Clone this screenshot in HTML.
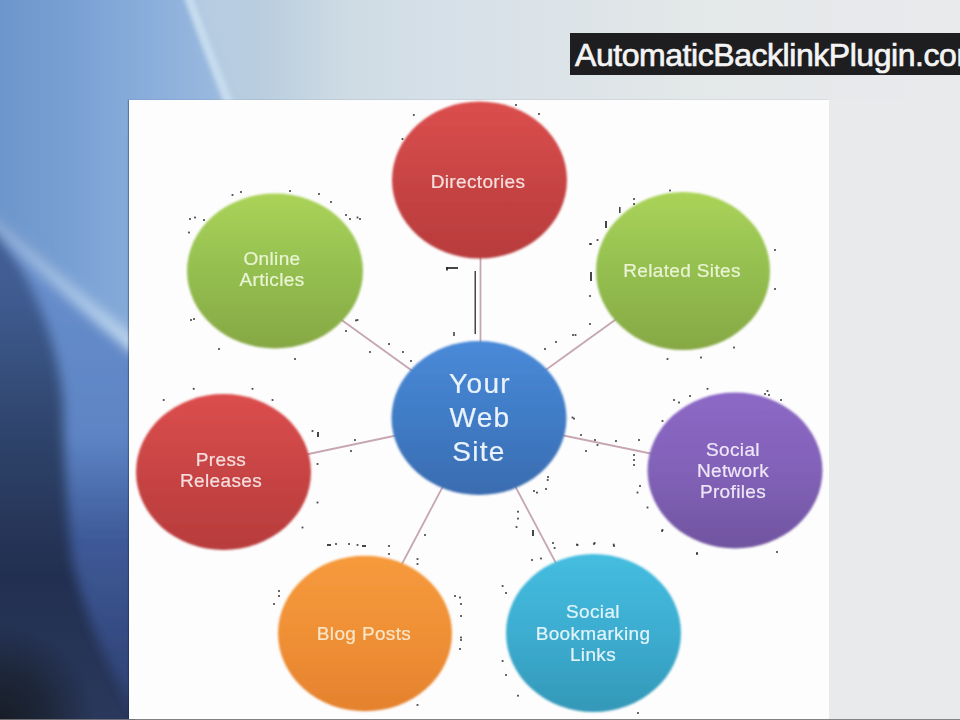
<!DOCTYPE html>
<html><head><meta charset="utf-8">
<style>
html,body{margin:0;padding:0;width:960px;height:720px;overflow:hidden;background:#e2e6e8;}
#bg{position:absolute;left:0;top:0;width:960px;height:720px;}
#slide{position:absolute;left:129px;top:100px;width:699.5px;height:619px;background:#fdfdfd;box-shadow:-1px 0 1px rgba(20,30,60,0.35);}
#banner{position:absolute;left:570px;top:33px;width:400px;height:42px;background:#1e1e20;}
#banner span{position:absolute;left:5px;top:3px;-webkit-text-stroke:0.7px #f4f4f4;font-family:"Liberation Sans",sans-serif;font-size:32px;color:#f4f4f4;letter-spacing:-0.45px;white-space:nowrap;line-height:38px;}
#strip{position:absolute;left:0;top:719px;width:960px;height:1px;background:rgba(120,120,124,0.9);}
#diag{position:absolute;left:0;top:0;width:960px;height:720px;}
.t{font-family:"Liberation Sans",sans-serif;fill:#eef0ec;stroke:#eef0ec;stroke-width:0.2px;text-anchor:middle;}
</style></head><body>
<svg id="bg" width="960" height="720" viewBox="0 0 960 720">
  <defs>
    <linearGradient id="glight" x1="0" y1="0" x2="960" y2="0" gradientUnits="userSpaceOnUse">
      <stop offset="0.2" stop-color="#b6cce2"/>
      <stop offset="0.27" stop-color="#b8cddf"/>
      <stop offset="0.365" stop-color="#cfdce4"/>
      <stop offset="0.47" stop-color="#d6e0e8"/>
      <stop offset="0.72" stop-color="#e3e8e8"/>
      <stop offset="0.92" stop-color="#e8e9ec"/>
      <stop offset="1" stop-color="#e8eaeb"/>
    </linearGradient>
    <linearGradient id="gblue" x1="0" y1="0" x2="232" y2="0" gradientUnits="userSpaceOnUse">
      <stop offset="0" stop-color="#6c96cc"/>
      <stop offset="0.25" stop-color="#769ed2"/>
      <stop offset="0.69" stop-color="#8cb0dc"/>
      <stop offset="1" stop-color="#9cbadf"/>
    </linearGradient>
    <linearGradient id="gdark" x1="0" y1="200" x2="0" y2="720" gradientUnits="userSpaceOnUse">
      <stop offset="0" stop-color="#46629a"/>
      <stop offset="0.2" stop-color="#3e5a8e"/>
      <stop offset="0.46" stop-color="#2e436a"/>
      <stop offset="0.72" stop-color="#222f50"/>
      <stop offset="1" stop-color="#2a385c"/>
    </linearGradient>
    <radialGradient id="gbl" cx="0" cy="720" r="95" gradientUnits="userSpaceOnUse">
      <stop offset="0" stop-color="#161c24" stop-opacity="0.95"/>
      <stop offset="0.5" stop-color="#161c24" stop-opacity="0.6"/>
      <stop offset="1" stop-color="#161c24" stop-opacity="0"/>
    </radialGradient>
    <linearGradient id="gmid" x1="0" y1="240" x2="0" y2="700" gradientUnits="userSpaceOnUse">
      <stop offset="0" stop-color="#6a90cc"/>
      <stop offset="0.43" stop-color="#5d84c4"/>
      <stop offset="0.65" stop-color="#3e5a98"/>
      <stop offset="1" stop-color="#2f4274"/>
    </linearGradient>
    <linearGradient id="gband" x1="0" y1="0" x2="140" y2="0" gradientUnits="userSpaceOnUse">
      <stop offset="0" stop-color="#8eb0dc"/>
      <stop offset="0.5" stop-color="#a8c6e8"/>
      <stop offset="1" stop-color="#c6dcf0"/>
    </linearGradient>
    <filter id="blur8" x="-50%" y="-50%" width="200%" height="200%"><feGaussianBlur stdDeviation="8"/></filter>
    <filter id="blur5" x="-50%" y="-50%" width="200%" height="200%"><feGaussianBlur stdDeviation="6"/></filter>
    <filter id="blur2" x="-50%" y="-50%" width="200%" height="200%"><feGaussianBlur stdDeviation="2"/></filter>
  </defs>
  <rect x="0" y="0" width="960" height="720" fill="#e8eaeb"/>
  <rect x="0" y="0" width="960" height="100" fill="url(#glight)"/>
  <rect x="0" y="0" width="135" height="720" fill="url(#gdark)"/>
  <rect x="0" y="560" width="135" height="160" fill="url(#gbl)"/>
  <g filter="url(#blur5)">
    <path d="M-30,-30 L180,-30 Q205,40 232,120 L140,120 L140,352 Q60,280 0,222 L-30,200 Z" fill="url(#gblue)"/>
    <path d="M0,232 Q70,290 140,350 L140,720 Q90,640 72,560 Q64,480 63,400 Q55,320 10,250 Z" fill="url(#gmid)"/>
  </g>
  <path d="M-10,218 Q60,285 140,350" stroke="url(#gband)" stroke-width="14" fill="none" filter="url(#blur5)"/>
  <path d="M188,-5 Q206,45 230,105" stroke="#c6dcee" stroke-width="9" fill="none" filter="url(#blur2)"/>
</svg>
<div id="slide"></div>
<div id="banner"><span>AutomaticBacklinkPlugin.com</span></div>
<svg id="diag" width="960" height="720" viewBox="0 0 960 720">
  <defs>
    <filter id="soft" x="-10%" y="-10%" width="120%" height="120%"><feGaussianBlur stdDeviation="1.1"/></filter>
    <filter id="tsoft" x="-10%" y="-30%" width="120%" height="160%"><feGaussianBlur stdDeviation="0.35"/></filter>
    <linearGradient id="cr" x1="0" y1="0" x2="0" y2="1"><stop offset="0" stop-color="#dc4e4e"/><stop offset="0.5" stop-color="#c84444"/><stop offset="1" stop-color="#b83c3c"/></linearGradient>
    <linearGradient id="cg" x1="0" y1="0" x2="0" y2="1"><stop offset="0" stop-color="#aad358"/><stop offset="0.5" stop-color="#94bf50"/><stop offset="1" stop-color="#86a844"/></linearGradient>
    <linearGradient id="cp" x1="0" y1="0" x2="0" y2="1"><stop offset="0" stop-color="#8c68c6"/><stop offset="0.5" stop-color="#8262b8"/><stop offset="1" stop-color="#7054a0"/></linearGradient>
    <linearGradient id="co" x1="0" y1="0" x2="0" y2="1"><stop offset="0" stop-color="#f69a3c"/><stop offset="0.5" stop-color="#f09036"/><stop offset="1" stop-color="#e4822e"/></linearGradient>
    <linearGradient id="cc" x1="0" y1="0" x2="0" y2="1"><stop offset="0" stop-color="#45bde0"/><stop offset="0.5" stop-color="#3cadd0"/><stop offset="1" stop-color="#3498b8"/></linearGradient>
    <linearGradient id="cb" x1="0" y1="0" x2="0" y2="1"><stop offset="0" stop-color="#4a8ad8"/><stop offset="0.5" stop-color="#407cc6"/><stop offset="1" stop-color="#3a6cb0"/></linearGradient>
  </defs>
  <g stroke="#c6a6b0" stroke-width="1.8">
    <line x1="480.5" y1="418" x2="480.5" y2="180"/>
    <line x1="479" y1="419" x2="275" y2="272"/>
    <line x1="479" y1="418" x2="683" y2="271"/>
    <line x1="479" y1="418" x2="223" y2="472"/>
    <line x1="479" y1="418" x2="735" y2="471"/>
    <line x1="479" y1="418" x2="365" y2="634"/>
    <line x1="479" y1="418" x2="593" y2="633"/>
  </g>
  <g filter="url(#soft)">
    <ellipse cx="479.5" cy="180" rx="87.5" ry="78.5" fill="url(#cr)"/>
    <ellipse cx="275" cy="271" rx="88" ry="77.5" fill="url(#cg)"/>
    <ellipse cx="683" cy="271" rx="87" ry="79" fill="url(#cg)"/>
    <ellipse cx="223.5" cy="472" rx="87.5" ry="78" fill="url(#cr)"/>
    <ellipse cx="735" cy="470.5" rx="87.5" ry="78" fill="url(#cp)"/>
    <ellipse cx="365" cy="633.5" rx="87" ry="77.8" fill="url(#co)"/>
    <ellipse cx="593.5" cy="633" rx="87.5" ry="79" fill="url(#cc)"/>
    <ellipse cx="479" cy="418" rx="87.5" ry="77" fill="url(#cb)"/>
  </g>
  <g font-size="19" letter-spacing="0.35" filter="url(#tsoft)">
    <text x="478" y="188" class="t" style="fill:#f6dede;stroke:#f6dede">Directories</text>
    <text x="272" y="265" class="t" style="fill:#eaf4d4;stroke:#eaf4d4">Online</text>
    <text x="272" y="286" class="t" style="fill:#eaf4d4;stroke:#eaf4d4">Articles</text>
    <text x="682" y="277" class="t" style="fill:#eaf4d4;stroke:#eaf4d4">Related Sites</text>
    <text x="221" y="466" class="t" style="fill:#f6dede;stroke:#f6dede">Press</text>
    <text x="221" y="487" class="t" style="fill:#f6dede;stroke:#f6dede">Releases</text>
    <text x="733" y="456" class="t" style="fill:#efe6f8;stroke:#efe6f8">Social</text>
    <text x="733" y="477" class="t" style="fill:#efe6f8;stroke:#efe6f8">Network</text>
    <text x="733" y="498" class="t" style="fill:#efe6f8;stroke:#efe6f8">Profiles</text>
    <text x="364" y="640" class="t" style="fill:#f8e6c8;stroke:#f8e6c8">Blog Posts</text>
    <text x="593" y="618" class="t" style="fill:#e2f4fa;stroke:#e2f4fa">Social</text>
    <text x="593" y="640" class="t" style="fill:#e2f4fa;stroke:#e2f4fa">Bookmarking</text>
    <text x="593" y="661" class="t" style="fill:#e2f4fa;stroke:#e2f4fa">Links</text>
  </g>
  <g font-size="28" letter-spacing="1.3" filter="url(#tsoft)">
    <text x="480" y="393" class="t" style="fill:#eaf2fc;stroke:#eaf2fc">Your</text>
    <text x="480" y="427" class="t" style="fill:#eaf2fc;stroke:#eaf2fc">Web</text>
    <text x="479" y="461" class="t" style="fill:#eaf2fc;stroke:#eaf2fc">Site</text>
  </g>
</svg>
<svg id="dots" width="960" height="720" viewBox="0 0 960 720" style="position:absolute;left:0;top:0"><g fill="#262626" fill-opacity="0.85"><rect x="231.6" y="194.1" width="1.8" height="1.8"/><rect x="240.1" y="191.1" width="1.8" height="1.8"/><rect x="289.1" y="190.1" width="1.8" height="1.8"/><rect x="318.1" y="193.1" width="1.8" height="1.8"/><rect x="330.1" y="201.1" width="1.8" height="1.8"/><rect x="345.1" y="214.1" width="1.8" height="1.8"/><rect x="349.1" y="218.1" width="1.8" height="1.8"/><rect x="356.6" y="216.6" width="1.8" height="1.8"/><rect x="359.1" y="218.1" width="1.8" height="1.8"/><rect x="189.1" y="218.1" width="1.8" height="1.8"/><rect x="194.1" y="216.6" width="1.8" height="1.8"/><rect x="203.1" y="219.1" width="1.8" height="1.8"/><rect x="188.1" y="231.6" width="1.8" height="1.8"/><rect x="190.1" y="319.1" width="1.8" height="1.8"/><rect x="193.1" y="318.1" width="1.8" height="1.8"/><rect x="218.1" y="348.1" width="1.8" height="1.8"/><rect x="345.1" y="330.1" width="1.8" height="1.8"/><rect x="356.6" y="319.1" width="1.8" height="1.8"/><rect x="388.1" y="343.1" width="1.8" height="1.8"/><rect x="369.1" y="351.1" width="1.8" height="1.8"/><rect x="294.1" y="358.1" width="1.8" height="1.8"/><rect x="412.9" y="114.1" width="1.8" height="1.8"/><rect x="515.1" y="104.1" width="1.8" height="1.8"/><rect x="538.1" y="113.1" width="1.8" height="1.8"/><rect x="401.6" y="138.1" width="1.8" height="1.8"/><rect x="590.1" y="243.1" width="1.8" height="1.8"/><rect x="596.6" y="239.1" width="1.8" height="1.8"/><rect x="669.1" y="189.6" width="1.8" height="1.8"/><rect x="633.1" y="198.1" width="1.8" height="1.8"/><rect x="633.1" y="203.1" width="1.8" height="1.8"/><rect x="589.1" y="243.1" width="1.8" height="1.8"/><rect x="589.1" y="295.1" width="1.8" height="1.8"/><rect x="589.1" y="323.1" width="1.8" height="1.8"/><rect x="574.6" y="334.1" width="1.8" height="1.8"/><rect x="774.1" y="249.1" width="1.8" height="1.8"/><rect x="774.1" y="288.1" width="1.8" height="1.8"/><rect x="733.1" y="346.6" width="1.8" height="1.8"/><rect x="666.6" y="358.1" width="1.8" height="1.8"/><rect x="700.1" y="356.6" width="1.8" height="1.8"/><rect x="192.8" y="387.9" width="1.8" height="1.8"/><rect x="251.6" y="387.9" width="1.8" height="1.8"/><rect x="162.8" y="399.1" width="1.8" height="1.8"/><rect x="271.6" y="399.1" width="1.8" height="1.8"/><rect x="311.6" y="430.1" width="1.8" height="1.8"/><rect x="354.1" y="439.1" width="1.8" height="1.8"/><rect x="350.1" y="450.1" width="1.8" height="1.8"/><rect x="316.6" y="463.1" width="1.8" height="1.8"/><rect x="316.6" y="501.6" width="1.8" height="1.8"/><rect x="301.6" y="526.6" width="1.8" height="1.8"/><rect x="335.1" y="543.1" width="1.8" height="1.8"/><rect x="348.1" y="543.1" width="1.8" height="1.8"/><rect x="356.6" y="544.1" width="1.8" height="1.8"/><rect x="571.6" y="416.6" width="1.8" height="1.8"/><rect x="706.6" y="387.9" width="1.8" height="1.8"/><rect x="673.1" y="399.1" width="1.8" height="1.8"/><rect x="678.1" y="401.6" width="1.8" height="1.8"/><rect x="689.1" y="395.1" width="1.8" height="1.8"/><rect x="661.6" y="420.1" width="1.8" height="1.8"/><rect x="766.6" y="390.1" width="1.8" height="1.8"/><rect x="764.1" y="393.1" width="1.8" height="1.8"/><rect x="768.1" y="394.1" width="1.8" height="1.8"/><rect x="780.1" y="399.1" width="1.8" height="1.8"/><rect x="580.1" y="434.1" width="1.8" height="1.8"/><rect x="594.1" y="439.1" width="1.8" height="1.8"/><rect x="596.6" y="444.1" width="1.8" height="1.8"/><rect x="615.1" y="440.1" width="1.8" height="1.8"/><rect x="638.1" y="439.1" width="1.8" height="1.8"/><rect x="585.1" y="450.1" width="1.8" height="1.8"/><rect x="633.1" y="454.1" width="1.8" height="1.8"/><rect x="633.1" y="459.1" width="1.8" height="1.8"/><rect x="633.1" y="464.1" width="1.8" height="1.8"/><rect x="639.1" y="485.1" width="1.8" height="1.8"/><rect x="636.6" y="491.6" width="1.8" height="1.8"/><rect x="646.6" y="506.6" width="1.8" height="1.8"/><rect x="661.6" y="529.1" width="1.8" height="1.8"/><rect x="576.6" y="544.1" width="1.8" height="1.8"/><rect x="593.1" y="543.1" width="1.8" height="1.8"/><rect x="613.1" y="545.1" width="1.8" height="1.8"/><rect x="388.1" y="545.1" width="1.8" height="1.8"/><rect x="388.1" y="553.1" width="1.8" height="1.8"/><rect x="424.1" y="534.1" width="1.8" height="1.8"/><rect x="416.6" y="558.1" width="1.8" height="1.8"/><rect x="416.6" y="563.1" width="1.8" height="1.8"/><rect x="278.1" y="595.1" width="1.8" height="1.8"/><rect x="273.1" y="603.1" width="1.8" height="1.8"/><rect x="454.1" y="595.1" width="1.8" height="1.8"/><rect x="459.1" y="596.6" width="1.8" height="1.8"/><rect x="460.1" y="603.1" width="1.8" height="1.8"/><rect x="460.1" y="615.1" width="1.8" height="1.8"/><rect x="460.1" y="636.6" width="1.8" height="1.8"/><rect x="460.1" y="639.1" width="1.8" height="1.8"/><rect x="459.1" y="648.1" width="1.8" height="1.8"/><rect x="416.6" y="704.1" width="1.8" height="1.8"/><rect x="546.8" y="479.1" width="1.8" height="1.8"/><rect x="545.1" y="488.1" width="1.8" height="1.8"/><rect x="533.1" y="490.1" width="1.8" height="1.8"/><rect x="536.1" y="491.7" width="1.8" height="1.8"/><rect x="661.1" y="530.1" width="1.8" height="1.8"/><rect x="517.1" y="510.8" width="1.8" height="1.8"/><rect x="517.1" y="517.7" width="1.8" height="1.8"/><rect x="515.6" y="526.1" width="1.8" height="1.8"/><rect x="552.1" y="542.1" width="1.8" height="1.8"/><rect x="553.7" y="547.1" width="1.8" height="1.8"/><rect x="576.1" y="543.7" width="1.8" height="1.8"/><rect x="593.7" y="542.1" width="1.8" height="1.8"/><rect x="612.8" y="543.7" width="1.8" height="1.8"/><rect x="531.1" y="559.1" width="1.8" height="1.8"/><rect x="540.1" y="557.6" width="1.8" height="1.8"/><rect x="696.1" y="552.1" width="1.8" height="1.8"/><rect x="501.7" y="585.1" width="1.8" height="1.8"/><rect x="505.1" y="592.1" width="1.8" height="1.8"/><rect x="501.7" y="660.1" width="1.8" height="1.8"/><rect x="505.1" y="674.1" width="1.8" height="1.8"/><rect x="517.1" y="694.8" width="1.8" height="1.8"/><rect x="637.1" y="712.1" width="1.8" height="1.8"/><rect x="355.1" y="319.5" width="1.8" height="1.8"/><rect x="402.1" y="351.1" width="1.8" height="1.8"/><rect x="410.1" y="360.1" width="1.8" height="1.8"/><rect x="453.1" y="332.1" width="1.8" height="1.8"/><rect x="453.1" y="334.1" width="1.8" height="1.8"/><rect x="544.1" y="348.1" width="1.8" height="1.8"/><rect x="555.1" y="341.1" width="1.8" height="1.8"/><rect x="572.1" y="334.1" width="1.8" height="1.8"/><rect x="573.1" y="417.7" width="1.8" height="1.8"/><rect x="547.1" y="476.1" width="1.8" height="1.8"/><rect x="696.1" y="553.1" width="1.8" height="1.8"/><rect x="776.1" y="551.1" width="1.8" height="1.8"/><rect x="278.1" y="590.1" width="1.8" height="1.8"/><rect x="474.5" y="271.0" width="1.5" height="63.0"/><rect x="446.0" y="267.0" width="12.0" height="2.0"/><rect x="446.0" y="267.0" width="2.0" height="3.5"/><rect x="619.0" y="207.0" width="1.6" height="6.0"/><rect x="605.0" y="221.0" width="2.0" height="7.0"/><rect x="590.0" y="272.0" width="2.0" height="9.0"/><rect x="317.0" y="432.0" width="2.0" height="5.0"/><rect x="532.0" y="530.0" width="2.0" height="6.0"/><rect x="362.0" y="545.0" width="4.0" height="2.0"/><rect x="327.0" y="544.0" width="4.0" height="2.0"/></g></svg>
<div id="strip"></div>
</body></html>
